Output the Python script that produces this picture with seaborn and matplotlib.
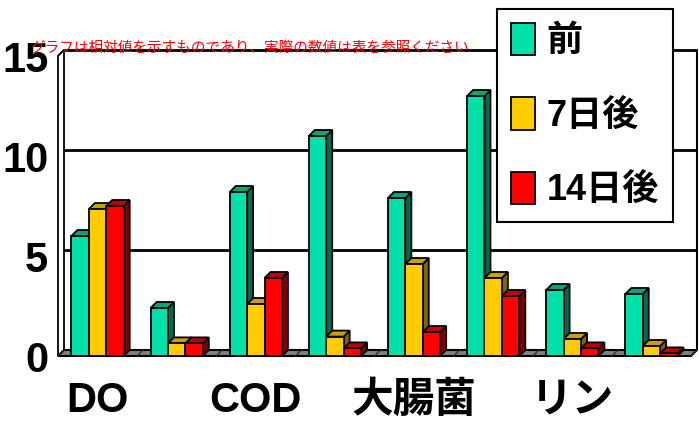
import numpy as np
import pandas as pd
import matplotlib
matplotlib.use("Agg")
import matplotlib.pyplot as plt
from matplotlib import font_manager
from matplotlib.patches import Polygon, Patch
import seaborn as sns

# ---- data -------------------------------------------------------------
items = [1, 2, 3, 4, 5, 6, 7, 8]
tick_labels = ["DO", "", "COD", "", "大腸菌", "", "リン", ""]
series = ["前", "7日後", "14日後"]
before = [6.0, 2.4, 8.2, 11.0, 7.9, 13.0, 3.3, 3.1]
after_7 = [7.35, 0.63, 2.6, 0.97, 4.6, 3.9, 0.85, 0.5]
after_14 = [7.5, 0.63, 3.9, 0.38, 1.2, 3.0, 0.38, 0.13]
y_ticks = [0, 5, 10, 15]
note = "グラフは相対値を示すものであり、実際の数値は表を参照ください"

# ---- styling ----------------------------------------------------------
front = {"前": "#00E0A8", "7日後": "#FFCC00", "14日後": "#FF0000"}
top_c = {"前": "#00A67C", "7日後": "#C8A000", "14日後": "#C00000"}
side_c = {"前": "#006A50", "7日後": "#806600", "14日後": "#800000"}

sns.set_theme(style="white")
installed = {f.name for f in font_manager.fontManager.ttflist}
narrow = "Liberation Sans Narrow" if "Liberation Sans Narrow" in installed else "Liberation Sans"
plt.rcParams["font.family"] = ["Noto Sans CJK JP", "DejaVu Sans"]
plt.rcParams["text.color"] = "black"
label_family = [narrow, "Noto Sans CJK JP"]

df = pd.DataFrame({
    "item": items * 3,
    "series": [s for s in series for _ in items],
    "value": before + after_7 + after_14,
})

W, H = 699, 437
fig = plt.figure(figsize=(W / 100, H / 100), dpi=100)
# axes = front plane of the 3-D box
ax = fig.add_axes([58 / W, 81 / H, 633 / W, 300 / H])

sns.barplot(data=df, x="item", y="value", hue="series", order=items,
            hue_order=series, palette=front, saturation=1, width=0.66,
            edgecolor="black", linewidth=1.3, errorbar=None, ax=ax)

ax.set_xlim(-0.5, 7.5)
ax.set_ylim(0, 15)
for s in ax.spines.values():
    s.set_visible(False)

# depth offset of the box, in data units (6 px right, 6 px up)
dx = 6 * 8 / 633
dy = 6 * 15 / 300
x_lo, x_hi = -0.5, 7.5

# back wall, left wall and floor
ax.add_patch(Polygon([(x_lo + dx, dy), (x_hi + dx, dy), (x_hi + dx, 15 + dy),
                      (x_lo + dx, 15 + dy)], closed=True, facecolor="white",
                     edgecolor="none", clip_on=False, zorder=0.5))
for v in [5, 10, 15]:
    ax.plot([x_lo + dx, x_hi + dx], [v + dy, v + dy], color="black", lw=2,
            clip_on=False, zorder=1, solid_capstyle="butt")
    ax.plot([x_lo, x_lo + dx], [v, v + dy], color="black", lw=1.2,
            clip_on=False, zorder=1)
ax.plot([x_hi + dx, x_hi + dx], [dy, 15 + dy], color="black", lw=1.5,
        clip_on=False, zorder=1)
ax.add_patch(Polygon([(x_lo, 0), (x_lo, 15), (x_lo + dx, 15 + dy),
                      (x_lo + dx, dy)], closed=True, facecolor="white",
                     edgecolor="black", lw=1.3, clip_on=False, zorder=1.2))
ax.add_patch(Polygon([(x_lo, 0), (x_hi, 0), (x_hi + dx, dy), (x_lo + dx, dy)],
                     closed=True, facecolor="#808080", edgecolor="black",
                     lw=1.5, clip_on=False, zorder=1.5))
for k in range(len(items) + 1):
    xb = x_lo + k
    ax.plot([xb, xb + dx], [0, dy], color="#303030", lw=1, clip_on=False,
            zorder=1.6)

# give every bar its top and side faces, drawn left to right
bars = []
for name, cont in zip(series, ax.containers):
    for b in cont:
        bars.append((b.get_x(), b, name))
bars.sort(key=lambda t: t[0])
for rank, (x0, b, name) in enumerate(bars):
    w, h = b.get_width(), b.get_height()
    z = 3 + 2 * rank
    ax.add_patch(Polygon([(x0 + w, 0), (x0 + w + dx, dy), (x0 + w + dx, h + dy),
                          (x0 + w, h)], closed=True, facecolor=side_c[name],
                         edgecolor="black", lw=1.3, zorder=z, clip_on=False))
    ax.add_patch(Polygon([(x0, h), (x0 + w, h), (x0 + w + dx, h + dy),
                          (x0 + dx, h + dy)], closed=True, facecolor=top_c[name],
                         edgecolor="black", lw=1.3, zorder=z, clip_on=False))
    b.set_zorder(z + 1)

# axes text
ax.set_xlabel("")
ax.set_ylabel("")
ax.set_xticks(range(len(items)))
ax.set_xticklabels(tick_labels, family=label_family, fontsize=30,
                   fontweight="bold", color="black")
ax.set_yticks(y_ticks)
ax.set_yticklabels([str(v) for v in y_ticks], family=label_family,
                   fontsize=30, fontweight="bold", color="black")
ax.tick_params(axis="x", length=0, pad=18)
ax.tick_params(axis="y", length=0, pad=7)

# legend
handles = [Patch(facecolor=front[s], edgecolor="black", lw=1.3) for s in series]
leg = ax.legend(handles, series, loc="lower left",
                bbox_to_anchor=(497 / W, 215 / H), bbox_transform=fig.transFigure,
                frameon=True, fancybox=False, framealpha=1, edgecolor="black",
                prop={"family": label_family, "size": 26, "weight": "bold"},
                handlelength=0.66, handleheight=1.0, handletextpad=0.33,
                labelspacing=1.05, borderpad=0.38, borderaxespad=0,
                labelcolor="black")
leg.get_frame().set_linewidth(1.5)
leg.set_zorder(100)

fig.text(30 / W, 1 - 48 / H, note, color="red", fontsize=10.5,
         family=["Noto Sans CJK JP", "DejaVu Sans"], va="center", ha="left",
         zorder=10)

fig.savefig("out.png", dpi=100)
